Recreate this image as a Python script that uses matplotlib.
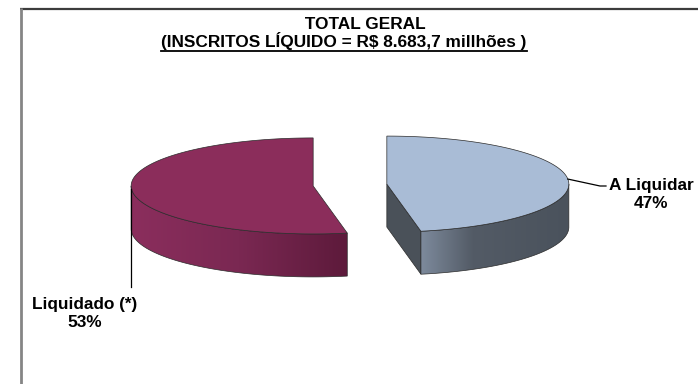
import numpy as np
import matplotlib.pyplot as plt
from matplotlib.patches import Polygon
from matplotlib.colors import to_rgb

plt.rcParams['font.family'] = ['Liberation Sans', 'DejaVu Sans']

# dados
titulo = 'TOTAL GERAL'
subtitulo = '(INSCRITOS LÍQUIDO = R$ 8.683,7 millhões )'
rotulos = ['A Liquidar', 'Liquidado (*)']
valores = [47, 53]

# estilo de cada fatia
cores_topo = ['#a9bcd6', '#8b2d5b']
cores_corte = ['#4a5159', '#5d1a3b']
degrades_lado = [
    [(0.0, '#7d8a9c'), (0.35, '#535b66'), (1.0, '#4a525c')],
    [(0.0, '#8b2e5d'), (0.5, '#7a2852'), (1.0, '#5d1a3b')],
]
cor_borda = '#2b2b2b'

# geometria da pizza 3D (pixels)
CX, CY = 350, 185
RX, RY = 182, 48
ALT = 43
EXPL = 37


def ponto(ang, cx, cy, dz=0.0):
    a = np.radians(ang)
    return cx + RX * np.cos(a), cy - RY * np.sin(a) + dz


def cor_degrade(paradas, t):
    pos = [p for p, _ in paradas]
    rgb = np.array([to_rgb(c) for _, c in paradas])
    return np.stack([np.interp(t, pos, rgb[:, k]) for k in range(3)], axis=-1)


fig = plt.figure(figsize=(6.98, 3.84), dpi=100)
ax = fig.add_axes([0, 0, 1, 1])

# moldura
ax.plot([20, 698], [8.5, 8.5], color='#3c3c3c', lw=1.6, solid_capstyle='butt')
ax.plot([20.5, 20.5], [8, 384], color='#858585', lw=2.0, solid_capstyle='butt')

inicio = 90.0
centros = []
for i, v in enumerate(valores):
    a1 = inicio
    a0 = inicio - 360.0 * v / sum(valores)
    inicio = a0
    bis = np.radians((a0 + a1) / 2)
    cx = CX + EXPL * np.cos(bis)
    cy = CY - EXPL * (RY / RX) * np.sin(bis)
    centros.append((cx, cy))

    # faces de corte visiveis
    for ang, normal in ((a0, a0 - 90), (a1, a1 + 90)):
        if np.sin(np.radians(normal)) < -1e-6:
            pts = [(cx, cy), ponto(ang, cx, cy), ponto(ang, cx, cy, ALT), (cx, cy + ALT)]
            ax.add_patch(Polygon(pts, closed=True, facecolor=cores_corte[i],
                                 edgecolor=cor_borda, lw=0.5, zorder=2))

    # lateral externa (parte da frente) com degrade horizontal
    lo, hi = max(a0, -180.0), min(a1, 0.0)
    if hi > lo:
        angs = np.linspace(lo, hi, 200)
        topo = [ponto(a, cx, cy) for a in angs]
        base = [ponto(a, cx, cy, ALT) for a in angs[::-1]]
        lado = Polygon(topo + base, closed=True, facecolor='none',
                       edgecolor=cor_borda, lw=0.5, zorder=3)
        ax.add_patch(lado)
        xs = np.array([p[0] for p in topo + base])
        ys = np.array([p[1] for p in topo + base])
        t = np.linspace(0, 1, 256)
        img = cor_degrade(degrades_lado[i], t)[np.newaxis, :, :]
        im = ax.imshow(img, extent=(xs.min(), xs.max(), ys.max(), ys.min()),
                       aspect='auto', interpolation='bilinear', zorder=2)
        im.set_clip_path(lado)

    # tampa
    angs = np.linspace(a0, a1, 200)
    tampa = [(cx, cy)] + [ponto(a, cx, cy) for a in angs]
    ax.add_patch(Polygon(tampa, closed=True, facecolor=cores_topo[i],
                         edgecolor=cor_borda, lw=0.5, zorder=4))

ax.set_xlim(0, 698)
ax.set_ylim(384, 0)
ax.axis('off')

# linhas de chamada
cx, cy = centros[0]
x0, y0 = ponto(6, cx, cy)
ax.plot([x0, 600, 606], [y0, 186, 186], color='black', lw=0.9, zorder=5)
cx, cy = centros[1]
x0, y0 = ponto(-180, cx, cy)
ax.plot([x0, x0], [y0 + 3, 287], color='black', lw=0.9, zorder=5)

fonte = dict(fontsize=12.4, fontweight='bold', color='black', ha='center', va='baseline')

# rotulos das fatias (y = linha de base da ultima linha)
posicoes = [(651, 207.5), (85, 327)]
for rot, v, (x, y) in zip(rotulos, valores, posicoes):
    ax.text(x, y, f'{rot}\n{v}%', linespacing=1.21, **fonte)

# titulo (primeira linha deslocada para a direita com espacos)
cab = ax.text(344, 47, ' ' * 9 + titulo + '\n' + subtitulo, linespacing=1.0, **fonte)
fig.canvas.draw()
bb = cab.get_window_extent().transformed(ax.transData.inverted())
ax.plot([min(bb.x0, bb.x1), max(bb.x0, bb.x1)], [50.5, 50.5], color='black', lw=1.3)

fig.savefig('out.png', dpi=100)
